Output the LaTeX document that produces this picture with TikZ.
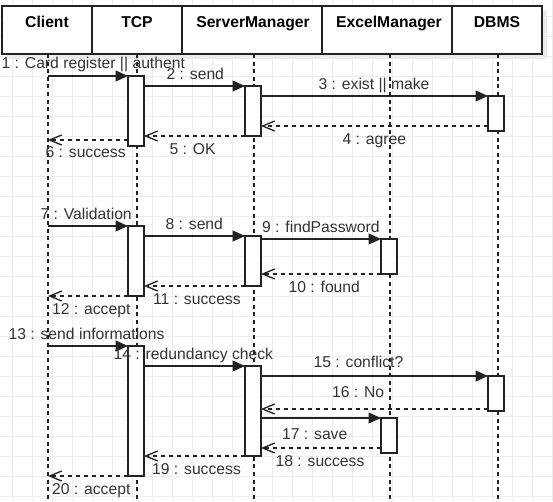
\documentclass[tikz,border=0pt]{standalone}
\usepackage{fontspec}
\setmainfont{Liberation Sans}
\usetikzlibrary{arrows.meta}
\definecolor{lc}{HTML}{222222}
\definecolor{txt}{HTML}{333333}
\definecolor{gridc}{HTML}{EDEDED}
\definecolor{shadowc}{HTML}{EBEBEB}
\begin{document}
\begin{tikzpicture}[x=1pt,y=-1pt,
  gridline/.style={draw=gridc, line width=0.9pt},
  hdr/.style={draw=lc, fill=white, line width=1.3pt, minimum height=48pt, inner sep=0pt, outer sep=0pt},
  hdrtxt/.style={anchor=base, inner sep=0pt, font=\bfseries\fontsize{15.7}{18}\selectfont, text=black},
  lifeline/.style={draw=lc, line width=1.3pt, dash pattern=on 4pt off 3.6pt},
  act/.style={draw=lc, fill=white, line width=1.3pt, minimum width=16pt, inner sep=0pt, outer sep=0pt, anchor=north},
  sync/.style={draw=lc, line width=1.3pt, -{Triangle[length=12.5pt,width=11pt]}},
  ret/.style={draw=lc, line width=1.3pt, dash pattern=on 4pt off 4pt, -{Straight Barb[length=12pt,width=10pt]}},
  lbl/.style={anchor=base west, inner sep=0pt, font=\fontsize{15.7}{18}\selectfont, text=txt}]
\useasboundingbox (0,0) rectangle (553,501);
\fill[white] (0,0) rectangle (553,501);
% background grid
\foreach \x in {12.5,32.5,...,552.5} \draw[gridline] (\x,0) -- (\x,501);
\foreach \y in {16,36,...,496} \draw[gridline] (0,\y) -- (553,\y);
% header shadow
\fill[shadowc] (6,10) rectangle (547,59);
% header boxes
\node[hdr, minimum width=90pt]  (clientbox) at (47,30) {};
\node[hdr, minimum width=90pt]  (tcpbox)    at (137,30) {};
\node[hdr, minimum width=140pt] (smbox)     at (252,30) {};
\node[hdr, minimum width=130pt] (exbox)     at (387,30) {};
\node[hdr, minimum width=90pt]  (dbbox)     at (497,30) {};
\node[hdrtxt] (clientlbl) at (47,27) {Client};
\node[hdrtxt] (tcplbl)    at (137,27) {TCP};
\node[hdrtxt] (smlbl)     at (253,27) {ServerManager};
\node[hdrtxt] (exlbl)     at (389,27) {ExcelManager};
\node[hdrtxt] (dblbl)     at (497,27) {DBMS};
% lifelines
\coordinate (clEnd) at (48,501);
\coordinate (tcEnd) at (137,501);
\coordinate (smEnd) at (254,501);
\coordinate (exEnd) at (390,501);
\coordinate (dbEnd) at (498,501);
\draw[lifeline] (clientbox.south -| clEnd) -- (clEnd);
\draw[lifeline] (tcpbox.south -| tcEnd) -- (tcEnd);
\draw[lifeline] (smbox.south -| smEnd) -- (smEnd);
\draw[lifeline] (exbox.south -| exEnd) -- (exEnd);
\draw[lifeline] (dbbox.south -| dbEnd) -- (dbEnd);
% activation boxes
\node[act, minimum height=70pt]  (t1) at (136,76) {};
\node[act, minimum height=50pt]  (s1) at (253,86) {};
\node[act, minimum height=35pt]  (d1) at (496,96) {};
\node[act, minimum height=70pt]  (t2) at (136,226) {};
\node[act, minimum height=50pt]  (s2) at (253,236) {};
\node[act, minimum height=35pt]  (e1) at (389,239) {};
\node[act, minimum height=130pt] (t3) at (136,346) {};
\node[act, minimum height=90pt]  (s3) at (253,366) {};
\node[act, minimum height=35pt]  (d2) at (496,376) {};
\node[act, minimum height=35pt]  (e2) at (389,418) {};
% client lifeline points
\coordinate (c1) at (48,76);
\coordinate (c6) at (48,140);
\coordinate (c7) at (48,226);
\coordinate (c12) at (48,296);
\coordinate (c13) at (48,346);
\coordinate (c20) at (48,476);
% block 1
\draw[sync] (c1) -- (t1.north west) node[lbl] at (1,68) {1 : Card register || authent};
\draw[sync] (t1.east |- 0,86) -- (s1.north west) node[lbl] at (166,79) {2 : send};
\draw[sync] (s1.east |- 0,96) -- (d1.north west) node[lbl] at (318,89) {3 : exist || make};
\draw[ret] (d1.west |- 0,126) -- (s1.east |- 0,126) node[lbl] at (342,144) {4 : agree};
\draw[ret] (s1.south west) -- (t1.east |- 0,136) node[lbl] at (169,154) {5 : OK};
\draw[ret] (t1.west |- 0,140) -- (c6) node[lbl] at (45,157) {6 : success};
% block 2
\draw[sync] (c7) -- (t2.north west) node[lbl] at (40,219) {7 : Validation};
\draw[sync] (t2.east |- 0,236) -- (s2.north west) node[lbl] at (165,229) {8 : send};
\draw[sync] (s2.east |- 0,239) -- (e1.north west) node[lbl] at (261.5,232) {9 : findPassword};
\draw[ret] (e1.south west) -- (s2.east |- 0,274) node[lbl] at (288,292) {10 : found};
\draw[ret] (s2.south west) -- (t2.east |- 0,286) node[lbl] at (152.5,304) {11 : success};
\draw[ret] (t2.south west) -- (c12) node[lbl] at (51.5,314) {12 : accept};
% block 3
\draw[sync] (c13) -- (t3.north west) node[lbl] at (8,339) {13 : send informations};
\draw[sync] (t3.east |- 0,366) -- (s3.north west) node[lbl] at (113,359) {14 : redundancy check};
\draw[sync] (s3.east |- 0,376) -- (d2.north west) node[lbl] at (313,367) {15 : conflict?};
\draw[ret] (d2.west |- 0,409) -- (s3.east |- 0,409) node[lbl] at (331.5,397) {16 : No};
\draw[sync] (s3.east |- 0,418) -- (e2.north west) node[lbl] at (281.5,439) {17 : save};
\draw[ret] (e2.west |- 0,448) -- (s3.east |- 0,448) node[lbl] at (275,466) {18 : success};
\draw[ret] (s3.south west) -- (t3.east |- 0,456) node[lbl] at (151.5,474) {19 : success};
\draw[ret] (t3.south west) -- (c20) node[lbl] at (51.5,494) {20 : accept};
\end{tikzpicture}
\end{document}
